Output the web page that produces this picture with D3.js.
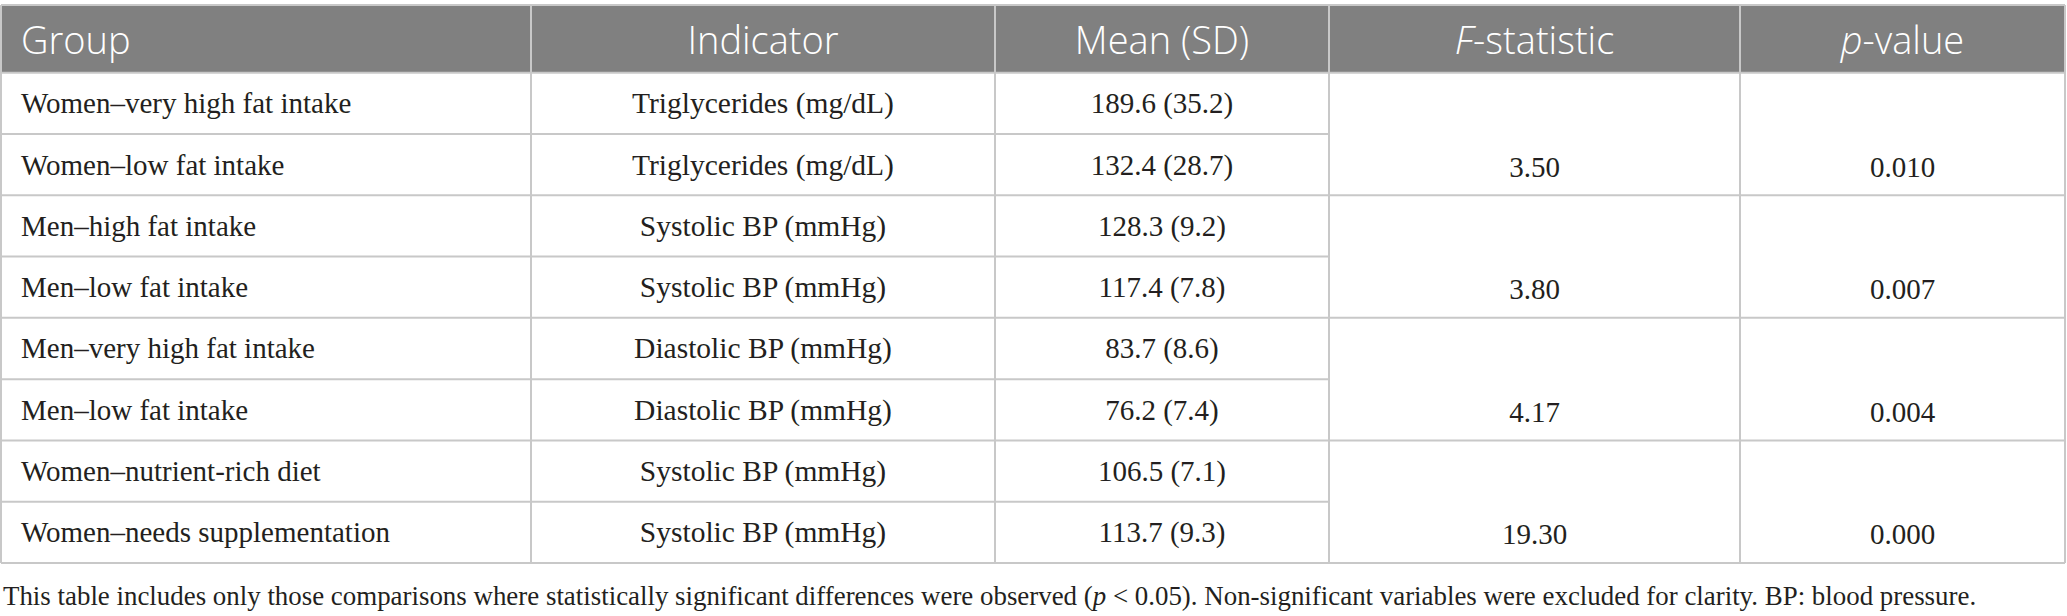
<!DOCTYPE html>
<html><head><meta charset="utf-8">
<script src="https://cdn.jsdelivr.net/npm/d3@7"></script>
<style>html,body{margin:0;padding:0;background:#fff;}</style>
</head><body>
<svg id="chart" width="2067" height="616"></svg>
<script>
const headers = ["Group", "Indicator", "Mean (SD)", "F-statistic", "p-value"];
const groups = ["Women–very high fat intake", "Women–low fat intake", "Men–high fat intake", "Men–low fat intake",
  "Men–very high fat intake", "Men–low fat intake", "Women–nutrient-rich diet", "Women–needs supplementation"];
const indicators = ["Triglycerides (mg/dL)", "Triglycerides (mg/dL)", "Systolic BP (mmHg)", "Systolic BP (mmHg)",
  "Diastolic BP (mmHg)", "Diastolic BP (mmHg)", "Systolic BP (mmHg)", "Systolic BP (mmHg)"];
const means = [189.6, 132.4, 128.3, 117.4, 83.7, 76.2, 106.5, 113.7];
const sds = [35.2, 28.7, 9.2, 7.8, 8.6, 7.4, 7.1, 9.3];
const fStats = [3.50, 3.80, 4.17, 19.30];
const pValues = [0.010, 0.007, 0.004, 0.000];
const footnote = "This table includes only those comparisons where statistically significant differences were observed (";
const footnoteRest = " < 0.05). Non-significant variables were excluded for clarity. BP: blood pressure.";

const svg = d3.select("#chart");
const colEdges = [1, 531, 995, 1329, 1740, 2065];
const headTop = 5, headBottom = 72.7, tableBottom = 563;
const nRows = groups.length;
const y = d3.scaleLinear().domain([0, nRows]).range([headBottom, tableBottom]);
const rowH = y(1) - y(0);
const lineCol = "#c8c8c8";
const serif = "'Liberation Serif', 'Times New Roman', serif";
const sans = "'Open Sans', 'Noto Sans', sans-serif";

// header background
svg.append("rect").attr("x", colEdges[0]).attr("y", headTop)
  .attr("width", colEdges[5] - colEdges[0]).attr("height", headBottom - headTop)
  .attr("fill", "#808080");

// header text
const hx = i => i === 0 ? 21 : (colEdges[i] + colEdges[i + 1]) / 2;
headers.forEach((h, i) => {
  const t = svg.append("text").attr("x", hx(i)).attr("y", (headTop + headBottom) / 2)
    .attr("dominant-baseline", "central")
    .attr("text-anchor", i === 0 ? "start" : "middle")
    .attr("font-family", sans).attr("font-weight", 300).attr("font-size", 38).attr("fill", "#fff");
  if (i === 3) { t.append("tspan").attr("font-style", "italic").text("F"); t.append("tspan").text("-statistic"); }
  else if (i === 4) { t.append("tspan").attr("font-style", "italic").text("p"); t.append("tspan").text("-value"); }
  else t.text(h);
});

// lines
const g = svg.append("g").attr("stroke", lineCol).attr("stroke-width", 2).attr("fill", "none");
g.append("line").attr("x1", colEdges[0]).attr("x2", colEdges[5]).attr("y1", headTop).attr("y2", headTop);
g.append("line").attr("x1", colEdges[0]).attr("x2", colEdges[5]).attr("y1", headBottom).attr("y2", headBottom);
g.append("line").attr("x1", colEdges[0]).attr("x2", colEdges[5]).attr("y1", tableBottom).attr("y2", tableBottom);
colEdges.forEach(cx => g.append("line").attr("x1", cx).attr("x2", cx).attr("y1", headTop).attr("y2", tableBottom));
for (let r = 1; r < nRows; r++) {
  const full = r % 2 === 0;
  g.append("line").attr("x1", colEdges[0]).attr("x2", full ? colEdges[5] : colEdges[3])
    .attr("y1", y(r)).attr("y2", y(r));
}

// body text
const body = svg.append("g").attr("font-family", serif).attr("font-size", 29).attr("fill", "#231f20");
groups.forEach((gr, r) => {
  const cy = y(r) + rowH / 2;
  body.append("text").attr("x", 21).attr("y", cy).attr("dominant-baseline", "central").text(gr);
  body.append("text").attr("x", hx(1)).attr("y", cy).attr("dominant-baseline", "central").attr("text-anchor", "middle").attr("font-size", 29.5).text(indicators[r]);
  body.append("text").attr("x", hx(2)).attr("y", cy).attr("dominant-baseline", "central").attr("text-anchor", "middle")
    .text(`${means[r].toFixed(1)} (${sds[r].toFixed(1)})`);
});
fStats.forEach((f, k) => {
  const cy = y(2 * k + 1) + rowH / 2 + 2;
  body.append("text").attr("x", hx(3)).attr("y", cy).attr("dominant-baseline", "central").attr("text-anchor", "middle").text(f.toFixed(2));
  body.append("text").attr("x", hx(4)).attr("y", cy).attr("dominant-baseline", "central").attr("text-anchor", "middle").text(pValues[k].toFixed(3));
});

// footnote
const fn = svg.append("text").attr("x", 3).attr("y", 605).attr("font-family", serif).attr("font-size", 26.9).attr("fill", "#231f20");
fn.append("tspan").text(footnote);
fn.append("tspan").attr("font-style", "italic").text("p");
fn.append("tspan").text(footnoteRest);
</script>
</body></html>
